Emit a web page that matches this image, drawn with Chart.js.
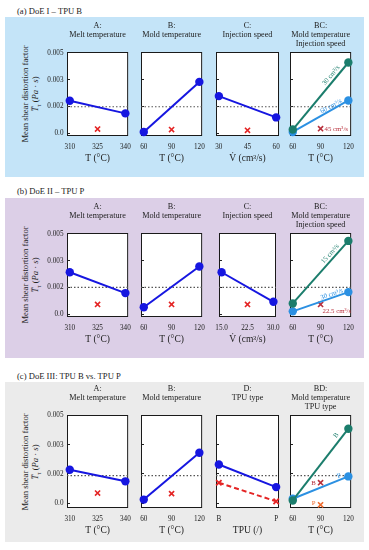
<!DOCTYPE html>
<html>
<head>
<meta charset="utf-8">
<script src="https://cdn.jsdelivr.net/npm/chart.js@4.4.0/dist/chart.umd.min.js"></script>
<style>
  body { margin: 0; width: 369px; height: 550px; background: #fff; position: relative; overflow: hidden;
         font-family: 'Liberation Serif', 'Times New Roman', serif; color: #222; }
  .bg { position: absolute; left: 5px; width: 359px; height: 160px; }
  .sec { position: absolute; left: 17px; font-size: 8.6px; line-height: 10px; white-space: nowrap; }
  .ylab { position: absolute; width: 130px; height: 20px; font-size: 8.6px; line-height: 10px;
          text-align: center; transform: rotate(-90deg); white-space: nowrap; }
  canvas { position: absolute; }
</style>
</head>
<body>
<script>
// shared axis values
const yTickValues = [0, 0.00167, 0.00333, 0.005];
const yTickLabels = ['0.0', '0.002', '0.003', '0.005'];
const meltTicks = [310, 325, 340];
const meltLevels = [310, 340];
const moldTicks = [60, 90, 120];
const moldLevels = [60, 120];
const speedTicksI = [30, 45, 60];
const speedLevelsI = [30, 60];
const speedTicksII = [15, 22.5, 30];
const speedLevelsII = [15, 30];
const speedLabelsII = ['15.0', '22.5', '30.0'];
const tpuTicks = [0, 1];
const tpuLabels = ['B', 'P'];

// (a) DoE I - TPU B
const meanI = 0.00166;
const meltI = [0.00203, 0.00125];
const moldI = [0.0001, 0.0032];
const speedI = [0.00232, 0.0010];
const moldAt30I = [0.00025, 0.0044];
const moldAt60I = [0.0001, 0.00205];
const centerI = [0.00028, 0.00025, 0.0002, 0.0003];

// (b) DoE II - TPU P
const meanII = 0.00168;
const meltII = [0.00262, 0.00133];
const moldII = [0.00045, 0.00298];
const speedII = [0.00262, 0.00079];
const moldAt15II = [0.00069, 0.00456];
const moldAt30II = [0.0002, 0.00139];
const centerII = [0.00063, 0.00063, 0.00063, 0.00063];

// (c) DoE III - TPU B vs. TPU P
const meanIII = 0.00156;
const meltIII = [0.0019, 0.00124];
const moldIII = [0.0002, 0.00287];
const tpuIII = [0.0022, 0.00091];
const tpuCenterIII = [0.00116, 0.0001];
const moldTpuB = [0.00015, 0.00424];
const moldTpuP = [0.00025, 0.00152];
const centerIII = [0.00057, 0.00054];
const moldCenterTpu = [0.00116, -0.0001];

const FONT = "'Liberation Serif', 'Times New Roman', serif";
Chart.defaults.font.family = FONT;
Chart.defaults.color = '#222';

const BLUE = '#1616e0', RED = '#e42424', DARKRED = '#b8303c', ORANGE = '#ee6a2c';
const TEAL = '#1b7d6c', LIGHT = '#2b90e2';

const PAD = 8, TITLE_H = 31, X_H = 28, PAD_B = 2, PLOT_W = 63, Y_W = 30;
const panelLefts = [67, 141, 216, 290];

const T_MELT = ['A:', 'Melt temperature', ''];
const T_MOLD = ['B:', 'Mold temperature', ''];
const T_SPEED = ['C:', 'Injection speed', ''];

const sections = [
  {
    label: '(a) DoE I – TPU B', bg: '#c4e4f8', bgTop: 17, labelY: 11,
    top: 52, bottom: 136, yMin: -0.00015, yMax: 0.00505, mean: meanI,
    panels: [
      { title: T_MELT, ticks: meltTicks, xTitle: 'T (°C)',
        lines: [{ x: meltLevels, y: meltI, color: BLUE }],
        centers: [{ x: [meltTicks[1]], y: [centerI[0]], color: RED }] },
      { title: T_MOLD, ticks: moldTicks, xTitle: 'T (°C)',
        lines: [{ x: moldLevels, y: moldI, color: BLUE }],
        centers: [{ x: [moldTicks[1]], y: [centerI[1]], color: RED }] },
      { title: T_SPEED, ticks: speedTicksI, xTitle: 'V̇ (cm³/s)',
        lines: [{ x: speedLevelsI, y: speedI, color: BLUE }],
        centers: [{ x: [speedTicksI[1]], y: [centerI[2]], color: RED }] },
      { title: ['BC:', 'Mold temperature', 'Injection speed'], ticks: moldTicks, xTitle: 'T (°C)',
        lines: [{ x: moldLevels, y: moldAt30I, color: TEAL }, { x: moldLevels, y: moldAt60I, color: LIGHT }],
        centers: [{ x: [moldTicks[1]], y: [centerI[3]], color: DARKRED }],
        notes: [
          { ds: 0, t: 0.76, off: 5, text: '30 cm³/s', color: TEAL },
          { ds: 1, t: 0.72, off: 3.5, text: '60 cm³/s', color: LIGHT },
          { ds: 2, dx: 4, dy: 0.5, text: '45 cm³/s', color: DARKRED }
        ] }
    ]
  },
  {
    label: '(b) DoE II  – TPU P', bg: '#dccfe7', bgTop: 198, labelY: 191,
    top: 233, bottom: 317, yMin: -0.00015, yMax: 0.00505, mean: meanII,
    panels: [
      { title: T_MELT, ticks: meltTicks, xTitle: 'T (°C)',
        lines: [{ x: meltLevels, y: meltII, color: BLUE }],
        centers: [{ x: [meltTicks[1]], y: [centerII[0]], color: RED }] },
      { title: T_MOLD, ticks: moldTicks, xTitle: 'T (°C)',
        lines: [{ x: moldLevels, y: moldII, color: BLUE }],
        centers: [{ x: [moldTicks[1]], y: [centerII[1]], color: RED }] },
      { title: T_SPEED, ticks: speedTicksII, labels: speedLabelsII, xTitle: 'V̇ (cm³/s)',
        lines: [{ x: speedLevelsII, y: speedII, color: BLUE }],
        centers: [{ x: [speedTicksII[1]], y: [centerII[2]], color: RED }] },
      { title: ['BC:', 'Mold temperature', 'Injection speed'], ticks: moldTicks, xTitle: 'T (°C)',
        lines: [{ x: moldLevels, y: moldAt15II, color: TEAL }, { x: moldLevels, y: moldAt30II, color: LIGHT }],
        centers: [{ x: [moldTicks[1]], y: [centerII[3]], color: DARKRED }],
        notes: [
          { ds: 0, t: 0.74, off: 5, text: '15 cm³/s', color: TEAL },
          { ds: 1, t: 0.72, off: 3.5, text: '30 cm³/s', color: LIGHT },
          { ds: 2, dx: 2, dy: 7, text: '22.5 cm³/s', color: DARKRED }
        ] }
    ]
  },
  {
    label: '(c) DoE III:  TPU B vs. TPU P', bg: '#ebebeb', bgTop: 382, labelY: 376,
    top: 415, bottom: 508, yMin: -0.00028, yMax: 0.00502, mean: meanIII,
    panels: [
      { title: T_MELT, ticks: meltTicks, xTitle: 'T (°C)',
        lines: [{ x: meltLevels, y: meltIII, color: BLUE }],
        centers: [{ x: [meltTicks[1]], y: [centerIII[0]], color: RED }] },
      { title: T_MOLD, ticks: moldTicks, xTitle: 'T (°C)',
        lines: [{ x: moldLevels, y: moldIII, color: BLUE }],
        centers: [{ x: [moldTicks[1]], y: [centerIII[1]], color: RED }] },
      { title: ['D:', 'TPU type', ''], ticks: tpuTicks, labels: tpuLabels, xTitle: 'TPU (/)',
        lines: [{ x: tpuTicks, y: tpuIII, color: BLUE },
                { x: tpuTicks, y: tpuCenterIII, color: RED, dash: [5, 3], cross: true }],
        centers: [] },
      { title: ['BD:', 'Mold temperature', 'TPU type'], ticks: moldTicks, xTitle: 'T (°C)',
        lines: [{ x: moldLevels, y: moldTpuB, color: TEAL }, { x: moldLevels, y: moldTpuP, color: LIGHT }],
        centers: [{ x: [moldTicks[1]], y: [moldCenterTpu[0]], color: DARKRED },
                  { x: [moldTicks[1]], y: [moldCenterTpu[1]], color: ORANGE }],
        notes: [
          { ds: 0, t: 0.86, off: 5.5, text: 'B', color: TEAL },
          { ds: 1, t: 0.86, off: 4, text: 'P', color: LIGHT },
          { ds: 2, dx: -7, dy: 0, text: 'B', color: DARKRED, align: 'center' },
          { ds: 3, dx: -7, dy: -2, text: 'P', color: ORANGE, align: 'center' }
        ] }
    ]
  }
];

// white plot area and black frame
const framePlugin = {
  id: 'frame',
  beforeDraw(chart) {
    const { ctx, chartArea: a } = chart;
    ctx.save();
    ctx.fillStyle = '#fff';
    ctx.fillRect(a.left, a.top, a.width, a.height);
    ctx.restore();
  },
  beforeDatasetsDraw(chart) {
    const { ctx, chartArea: a } = chart;
    ctx.save();
    ctx.strokeStyle = '#1a1a1a';
    ctx.lineWidth = 1;
    ctx.strokeRect(a.left + 0.5, a.top + 0.5, a.width - 1, a.height - 1);
    ctx.restore();
  }
};

// small text labels placed along lines / next to centre runs
function notesPlugin(notes) {
  return {
    id: 'notes',
    afterDatasetsDraw(chart) {
      const ctx = chart.ctx;
      notes.forEach(n => {
        const pts = chart.getDatasetMeta(n.ds).data;
        ctx.save();
        ctx.font = '6.8px ' + FONT;
        ctx.fillStyle = n.color;
        ctx.textBaseline = 'middle';
        if (n.t !== undefined) {
          const a = pts[0], b = pts[1];
          const ang = Math.atan2(b.y - a.y, b.x - a.x);
          const x = a.x + n.t * (b.x - a.x) + n.off * Math.sin(ang);
          const y = a.y + n.t * (b.y - a.y) - n.off * Math.cos(ang);
          ctx.translate(x, y);
          ctx.rotate(ang);
          ctx.textAlign = 'center';
          ctx.fillText(n.text, 0, 0);
        } else {
          const p = pts[0];
          ctx.textAlign = n.align || 'left';
          ctx.fillText(n.text, p.x + n.dx, p.y + n.dy);
        }
        ctx.restore();
      });
    }
  };
}

function pts(xs, ys) {
  return xs.map((x, i) => ({ x, y: ys[i] }));
}

function makePanel(sec, col, p) {
  const yW = col === 0 ? Y_W : 0;
  const plotH = sec.bottom - sec.top;
  const w = PAD * 2 + yW + PLOT_W;
  const h = TITLE_H + plotH + X_H + PAD_B;
  const canvas = document.createElement('canvas');
  canvas.width = w;
  canvas.height = h;
  canvas.style.width = w + 'px';
  canvas.style.height = h + 'px';
  canvas.style.left = (panelLefts[col] - yW - PAD) + 'px';
  canvas.style.top = (sec.top - TITLE_H) + 'px';
  document.body.appendChild(canvas);

  const lo = p.ticks[0], hi = p.ticks[p.ticks.length - 1];
  const xMin = lo - (hi - lo) * 0.05, xMax = hi + (hi - lo) * 0.05;

  const datasets = [];
  p.lines.forEach(l => datasets.push({
    data: pts(l.x, l.y),
    showLine: true,
    borderColor: l.color,
    backgroundColor: l.color,
    borderWidth: 2,
    borderDash: l.dash || [],
    pointStyle: l.cross ? 'crossRot' : 'circle',
    pointRadius: l.cross ? 3.8 : 4.2,
    pointBackgroundColor: l.color,
    pointBorderColor: l.color,
    pointBorderWidth: l.cross ? 1.8 : 0,
    clip: false
  }));
  p.centers.forEach(c => datasets.push({
    data: pts(c.x, c.y),
    showLine: false,
    pointStyle: 'crossRot',
    pointRadius: 3.6,
    pointBorderColor: c.color,
    pointBorderWidth: 1.6,
    clip: false
  }));
  datasets.push({
    data: [{ x: xMin, y: sec.mean }, { x: xMax, y: sec.mean }],
    showLine: true,
    borderColor: '#555',
    borderWidth: 1.2,
    borderDash: [1.5, 2],
    pointRadius: 0
  });

  new Chart(canvas, {
    type: 'scatter',
    data: { datasets },
    options: {
      responsive: false,
      animation: false,
      events: [],
      layout: { padding: { left: PAD, right: PAD, top: 0, bottom: PAD_B } },
      plugins: {
        legend: { display: false },
        tooltip: { enabled: false },
        title: {
          display: true, fullSize: false, text: p.title, color: '#222',
          font: { family: FONT, size: 8.2, weight: 'normal', lineHeight: '9px' },
          padding: { top: 0, bottom: 4 }
        }
      },
      scales: {
        x: {
          type: 'linear', min: xMin, max: xMax,
          afterBuildTicks: s => { s.ticks = p.ticks.map(v => ({ value: v })); },
          afterFit: s => { s.height = X_H; },
          ticks: {
            autoSkip: false, maxRotation: 0, padding: 6.8, color: '#222',
            font: { size: 7.2 },
            callback: (v, i) => p.labels ? p.labels[i] : String(v)
          },
          grid: { drawOnChartArea: false, drawTicks: false },
          border: { display: false },
          title: { display: true, text: p.xTitle, color: '#222', font: { size: 9.5 }, padding: 0 }
        },
        y: {
          type: 'linear', min: sec.yMin, max: sec.yMax,
          afterBuildTicks: s => { s.ticks = yTickValues.map(v => ({ value: v })); },
          afterFit: s => { s.width = yW; },
          ticks: {
            display: col === 0, autoSkip: false, padding: 6.5, color: '#222',
            font: { size: 7.2 },
            callback: (v, i) => yTickLabels[i]
          },
          grid: { drawOnChartArea: false, drawTicks: true, tickLength: -3, color: '#222', lineWidth: 1 },
          border: { display: false }
        }
      }
    },
    plugins: [framePlugin, notesPlugin(p.notes || [])]
  });
}

sections.forEach(sec => {
  const bg = document.createElement('div');
  bg.className = 'bg';
  bg.style.top = sec.bgTop + 'px';
  bg.style.background = sec.bg;
  document.body.appendChild(bg);

  const lab = document.createElement('div');
  lab.className = 'sec';
  lab.style.top = (sec.labelY - 5) + 'px';
  lab.textContent = sec.label;
  document.body.appendChild(lab);

  const yl = document.createElement('div');
  yl.className = 'ylab';
  yl.style.left = (30 - 65) + 'px';
  yl.style.top = ((sec.top + sec.bottom) / 2 - 10) + 'px';
  yl.innerHTML = 'Mean shear distortion factor<br><i>T&#773;</i><sub style="font-size:6px">τ</sub> (<i>Pa</i> · <i>s</i>)';
  document.body.appendChild(yl);

  sec.panels.forEach((p, col) => makePanel(sec, col, p));
});
</script>
</body>
</html>
